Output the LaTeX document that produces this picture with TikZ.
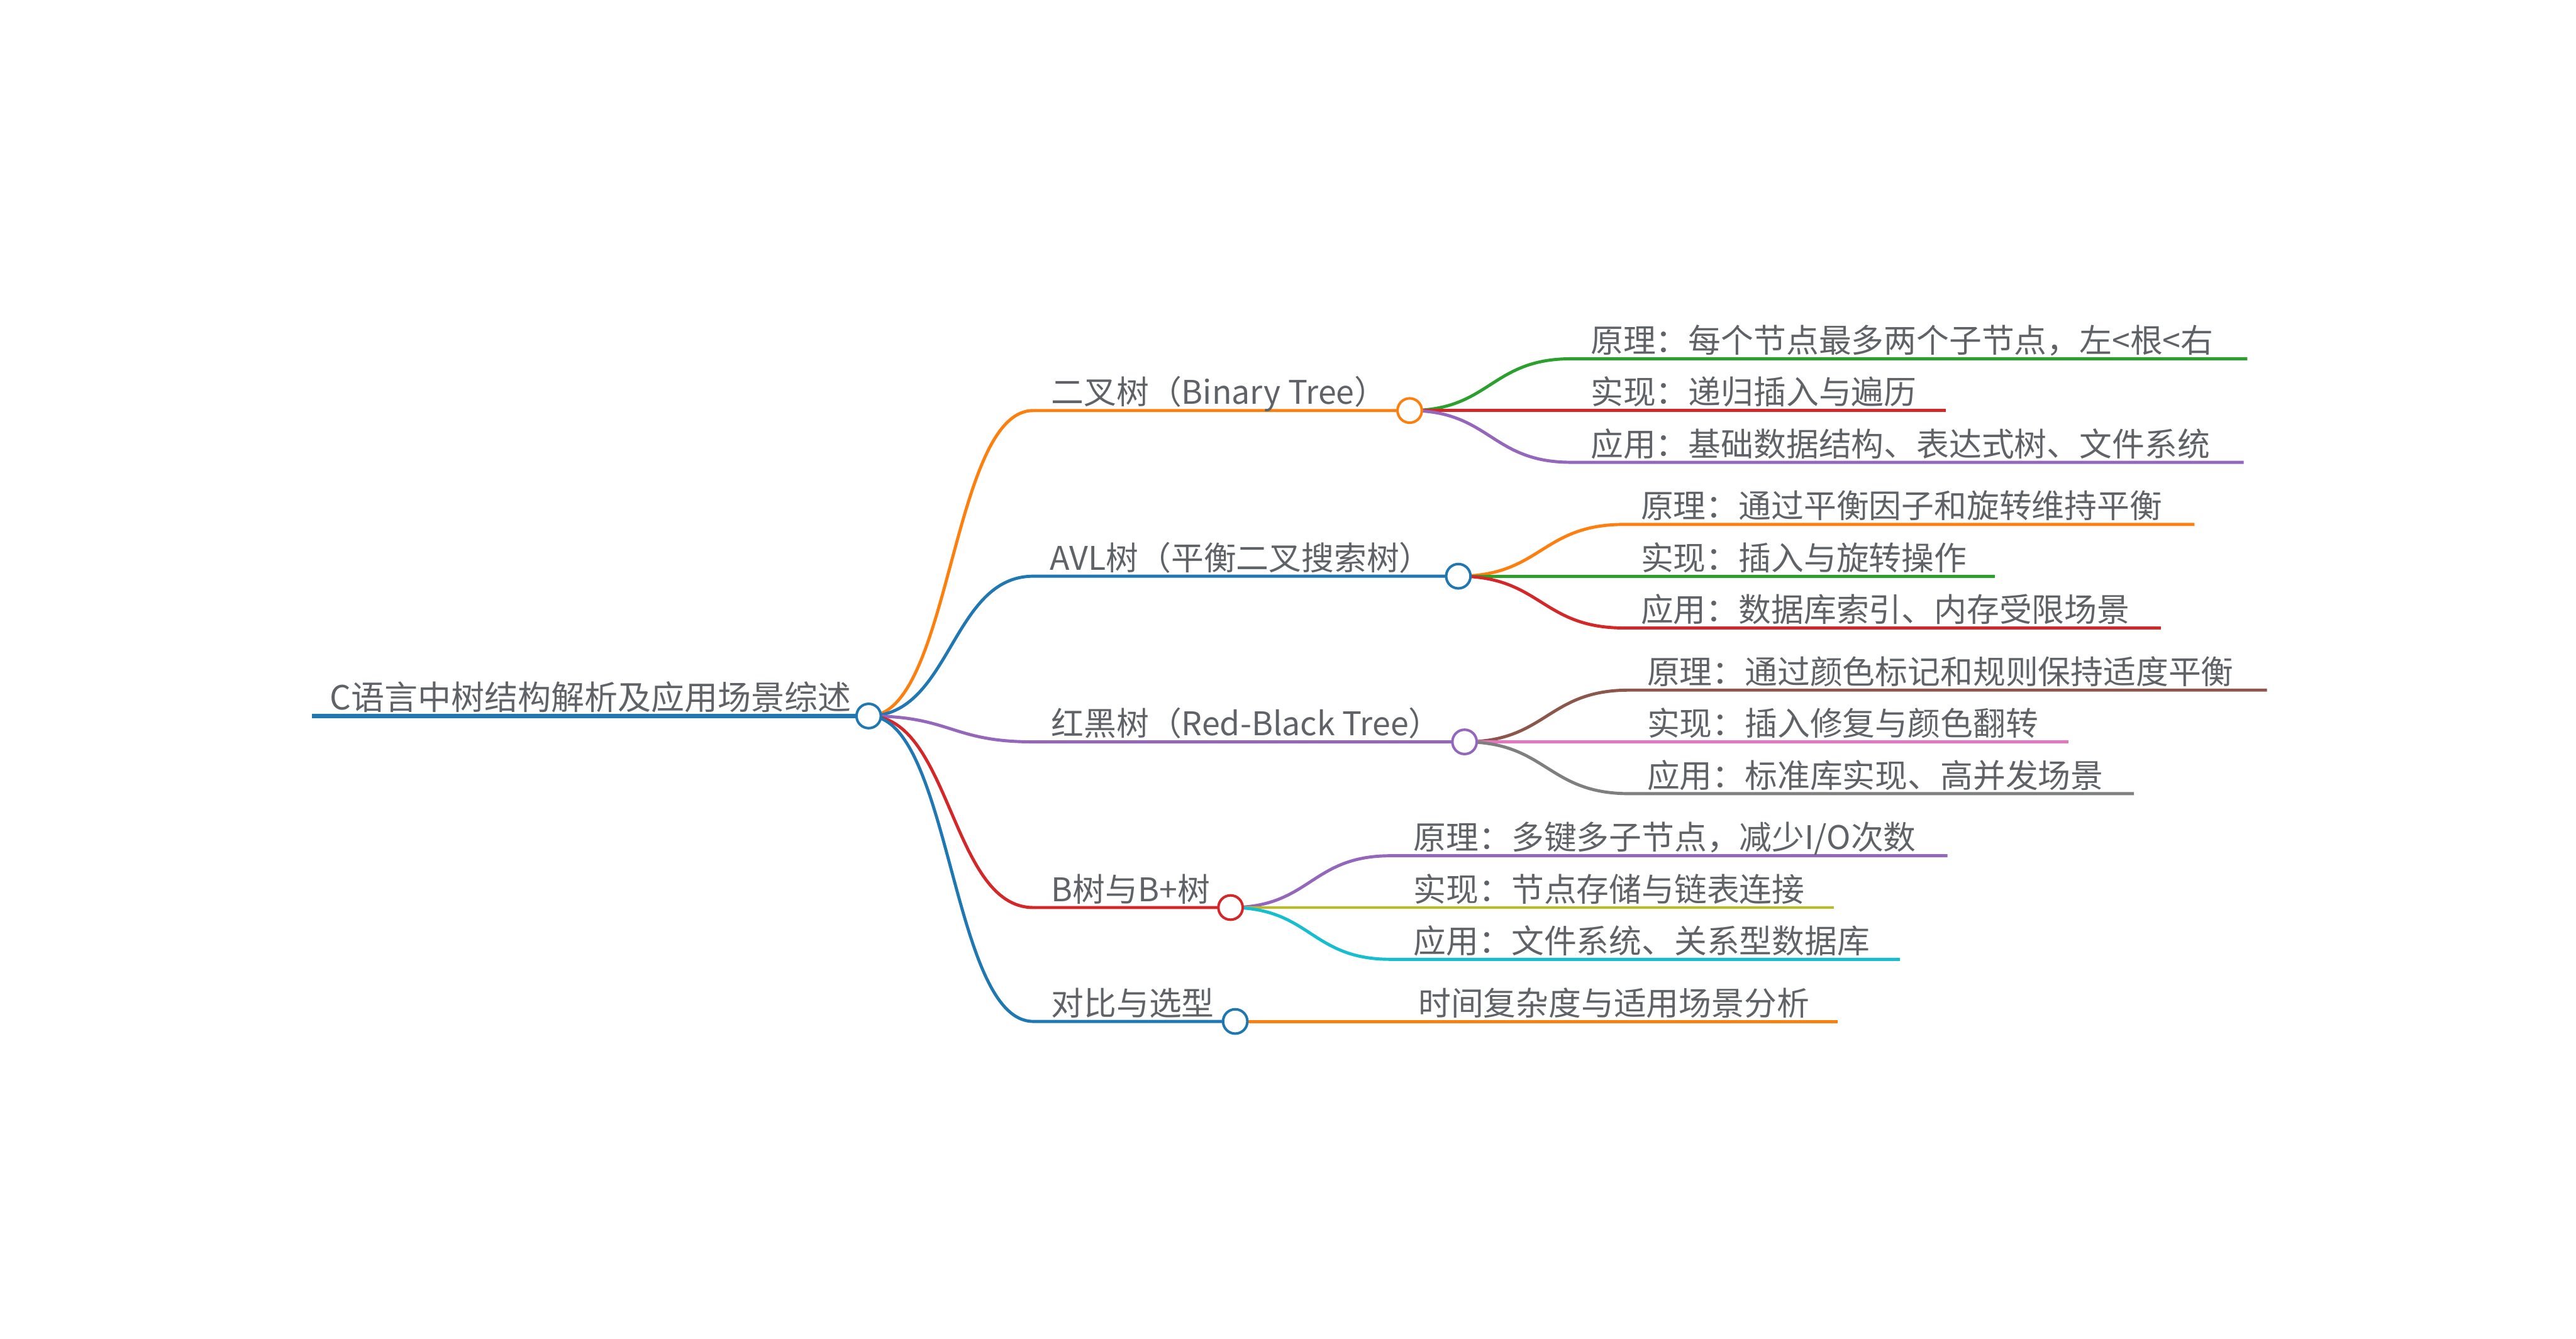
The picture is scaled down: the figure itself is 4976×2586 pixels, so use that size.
\documentclass[tikz,border=0pt]{standalone}
\usepackage{fontspec}
\setmainfont{Noto Sans CJK SC}
\usetikzlibrary{backgrounds}
\definecolor{mmblue}{RGB}{31,119,180}
\definecolor{mmorange}{RGB}{255,127,14}
\definecolor{mmgreen}{RGB}{44,160,44}
\definecolor{mmred}{RGB}{214,39,40}
\definecolor{mmpurple}{RGB}{148,103,189}
\definecolor{mmbrown}{RGB}{140,86,75}
\definecolor{mmpink}{RGB}{227,119,194}
\definecolor{mmgray}{RGB}{127,127,127}
\definecolor{mmolive}{RGB}{188,189,34}
\definecolor{mmcyan}{RGB}{23,190,207}
\definecolor{txtgray}{RGB}{95,99,104}
\newcommand\mmfont{\fontsize{17.9}{21}\selectfont}

\tikzset{
  lbl/.style={anchor=base west,inner sep=0pt,text=txtgray,font=\mmfont},
  knob/.style={circle,draw=#1,fill=white,line width=1.4pt,minimum size=0.47cm,inner sep=0pt},
  wire/.style={draw=#1,line width=1.7pt},
}

\begin{document}
\begin{tikzpicture}[x=0.01cm,y=-0.01cm]
    \useasboundingbox (0,0) rectangle (4976,2586);

    % Root topic
    \coordinate (root-s) at (603,1383);
    \node[knob=mmblue] (root) at (1678,1383) {};
    \node[lbl,font=\fontsize{18.3}{21}\selectfont] (root-t) at (637,1371)
      {C语言中树结构解析及应用场景综述};

    % Main branches
    \coordinate (bt-s) at (1996,793);
    \node[knob=mmorange] (bt) at (2723,793) {};
    \node[lbl] (bt-t) at (2030,781) {二叉树（Binary Tree）};

    \coordinate (avl-s) at (1996,1113);
    \node[knob=mmblue] (avl) at (2817,1113) {};
    \node[lbl] (avl-t) at (2028,1101) {AVL树（平衡二叉搜索树）};

    \coordinate (rb-s) at (1996,1433);
    \node[knob=mmpurple] (rb) at (2829,1433) {};
    \node[lbl] (rb-t) at (2030,1421) {红黑树（Red-Black Tree）};

    \coordinate (bb-s) at (1996,1753);
    \node[knob=mmred] (bb) at (2377,1753) {};
    \node[lbl] (bb-t) at (2030,1741) {B树与B+树};

    \coordinate (cmp-s) at (1996,1973);
    \node[knob=mmblue] (cmp) at (2386,1973) {};
    \node[lbl] (cmp-t) at (2030,1961) {对比与选型};

    % Binary tree leaves
    \coordinate (bt1-s) at (3035,693);  \coordinate (bt1-e) at (4341,693);
    \coordinate (bt2-e) at (3759,793);
    \coordinate (bt3-s) at (3035,893);  \coordinate (bt3-e) at (4334,893);
    \node[lbl] (bt1) at (3072,681) {原理：每个节点最多两个子节点，左<根<右};
    \node[lbl] (bt2) at (3072,781) {实现：递归插入与遍历};
    \node[lbl] (bt3) at (3072,881) {应用：基础数据结构、表达式树、文件系统};

    % AVL leaves
    \coordinate (avl1-s) at (3137,1013); \coordinate (avl1-e) at (4239,1013);
    \coordinate (avl2-e) at (3854,1113);
    \coordinate (avl3-s) at (3137,1213); \coordinate (avl3-e) at (4174,1213);
    \node[lbl] (avl1) at (3169,1001) {原理：通过平衡因子和旋转维持平衡};
    \node[lbl] (avl2) at (3169,1101) {实现：插入与旋转操作};
    \node[lbl] (avl3) at (3169,1201) {应用：数据库索引、内存受限场景};

    % Red-black leaves
    \coordinate (rb1-s) at (3147,1333); \coordinate (rb1-e) at (4379,1333);
    \coordinate (rb2-e) at (3995,1433);
    \coordinate (rb3-s) at (3147,1533); \coordinate (rb3-e) at (4122,1533);
    \node[lbl] (rb1) at (3181,1321) {原理：通过颜色标记和规则保持适度平衡};
    \node[lbl] (rb2) at (3181,1421) {实现：插入修复与颜色翻转};
    \node[lbl] (rb3) at (3181,1521) {应用：标准库实现、高并发场景};

    % B-tree leaves
    \coordinate (bb1-s) at (2686,1653); \coordinate (bb1-e) at (3762,1653);
    \coordinate (bb2-e) at (3542,1753);
    \coordinate (bb3-s) at (2686,1853); \coordinate (bb3-e) at (3670,1853);
    \node[lbl] (bb1) at (2730,1641) {原理：多键多子节点，减少I/O次数};
    \node[lbl] (bb2) at (2730,1741) {实现：节点存储与链表连接};
    \node[lbl] (bb3) at (2730,1841) {应用：文件系统、关系型数据库};

    % Comparison leaf
    \coordinate (cmp1-e) at (3550,1973);
    \node[lbl] (cmp1) at (2739,1961) {时间复杂度与适用场景分析};

    % Connectors
    \begin{scope}[on background layer]
      \draw[wire=mmblue,line width=2.3pt] (root-s) -- (root.center);
      \draw[wire=mmorange] (root.center) .. controls +(159,0) and +(-159,0) .. (bt-s) -- (bt.center);
      \draw[wire=mmblue] (root.center) .. controls +(159,0) and +(-159,0) .. (avl-s) -- (avl.center);
      \draw[wire=mmpurple] (root.center) .. controls +(159,0) and +(-159,0) .. (rb-s) -- (rb.center);
      \draw[wire=mmred] (root.center) .. controls +(159,0) and +(-159,0) .. (bb-s) -- (bb.center);
      \draw[wire=mmblue] (root.center) .. controls +(159,0) and +(-159,0) .. (cmp-s) -- (cmp.center);

      \draw[wire=mmgreen] (bt.center) .. controls +(156,0) and +(-156,0) .. (bt1-s) -- (bt1-e);
      \draw[wire=mmred] (bt.center) -- (bt2-e);
      \draw[wire=mmpurple] (bt.center) .. controls +(156,0) and +(-156,0) .. (bt3-s) -- (bt3-e);

      \draw[wire=mmorange] (avl.center) .. controls +(160,0) and +(-160,0) .. (avl1-s) -- (avl1-e);
      \draw[wire=mmgreen] (avl.center) -- (avl2-e);
      \draw[wire=mmred] (avl.center) .. controls +(160,0) and +(-160,0) .. (avl3-s) -- (avl3-e);

      \draw[wire=mmbrown] (rb.center) .. controls +(159,0) and +(-159,0) .. (rb1-s) -- (rb1-e);
      \draw[wire=mmpink] (rb.center) -- (rb2-e);
      \draw[wire=mmgray] (rb.center) .. controls +(159,0) and +(-159,0) .. (rb3-s) -- (rb3-e);

      \draw[wire=mmpurple] (bb.center) .. controls +(155,0) and +(-155,0) .. (bb1-s) -- (bb1-e);
      \draw[wire=mmolive] (bb.center) -- (bb2-e);
      \draw[wire=mmcyan] (bb.center) .. controls +(155,0) and +(-155,0) .. (bb3-s) -- (bb3-e);

      \draw[wire=mmorange] (cmp.center) -- (cmp1-e);
    \end{scope}
\end{tikzpicture}
\end{document}
